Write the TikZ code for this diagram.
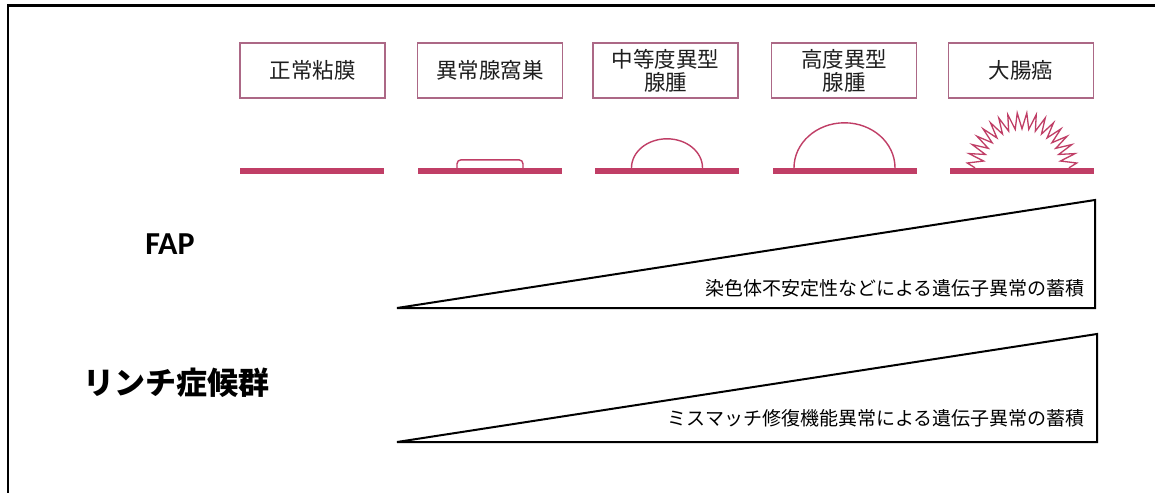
\documentclass[tikz,border=0pt]{standalone}
\usepackage{fontspec}
\usetikzlibrary{calc}
\newfontfamily\jp{Noto Sans CJK JP}
\newfontfamily\lat{Carlito}
\definecolor{boxedge}{RGB}{172,104,134}
\definecolor{barcol}{RGB}{192,62,102}
\definecolor{labelgray}{RGB}{30,30,30}
\tikzset{
  stagebox/.style={draw=boxedge, line width=1.3pt, minimum width=145pt, minimum height=55pt,
    inner sep=0pt, align=center, text=labelgray, font=\jp\fontsize{21.5}{23}\selectfont},
  mucosa/.style={fill=barcol, minimum width=144pt, minimum height=6pt, inner sep=0pt},
  lesion/.style={draw=barcol, line width=1.4pt},
  wedge/.style={draw=black, line width=2pt, line join=miter},
  wedgetext/.style={anchor=east, inner sep=0pt, font=\jp\fontsize{19}{19}\selectfont},
  frameline/.style={line width=2.6pt}
}
\begin{document}
\begin{tikzpicture}[x=1pt,y=1pt]
\useasboundingbox (0,0) rectangle (1155,-492);
\fill[white] (0,0) rectangle (1155,-492);

% outer frame (left and top edges)
\draw[frameline] (8,-493) -- (8,-5.5) -- (1156,-5.5);

% stage labels
\node[stagebox] (s1) at (312.5,-70.5) {正常粘膜};
\node[stagebox] (s2) at (490,-70.5) {異常腺窩巣};
\node[stagebox] (s3) at (665.5,-70.5) {中等度異型\\腺腫};
\node[stagebox] (s4) at (844,-70.5) {高度異型\\腺腫};
\node[stagebox] (s5) at (1021,-70.5) {大腸癌};

% mucosa bars
\node[mucosa] (b1) at (312,-171) {};
\node[mucosa] (b2) at (490,-171) {};
\node[mucosa] (b3) at (667,-171) {};
\node[mucosa] (b4) at (844.5,-171) {};
\node[mucosa] (b5) at (1022,-171) {};

% aberrant crypt focus
\draw[lesion, rounded corners=4pt] ($(b2.north)+(-33,0)$) -- ++(0,8) -- ++(66,0) -- ++(0,-8);
% moderate adenoma
\draw[lesion] ($(b3.north)+(35.5,0)$) arc[start angle=0, end angle=180, x radius=35.5, y radius=29];
% severe adenoma
\draw[lesion] ($(b4.north)+(50.5,0)$) arc[start angle=0, end angle=180, x radius=50.5, y radius=45];
% carcinoma
\begin{scope}[shift={(b5.north)}]
  \draw[lesion, line width=1.3pt, line join=miter] (180:47)
    \foreach \i in {1,...,35} { -- ({180-\i*180/36}:{ifthenelse(isodd(\i),55,39)}) }
    -- (0:47);
\end{scope}

% syndromes
\node[font=\lat\bfseries\fontsize{32}{32}\selectfont] (fap) at (170,-244) {FAP};
\node[font=\jp\bfseries\fontsize{31}{31}\selectfont] (lynch) at (176,-383) {リンチ症候群};

% accumulation wedges
\draw[wedge] (397,-308) -- (1095,-200) -- (1095,-308) -- cycle;
\draw[wedge] (397,-442) -- (1097,-334) -- (1097,-442) -- cycle;
\node[wedgetext] (w1) at (1085,-288) {染色体不安定性などによる遺伝子異常の蓄積};
\node[wedgetext] (w2) at (1085,-418) {ミスマッチ修復機能異常による遺伝子異常の蓄積};
\end{tikzpicture}
\end{document}
